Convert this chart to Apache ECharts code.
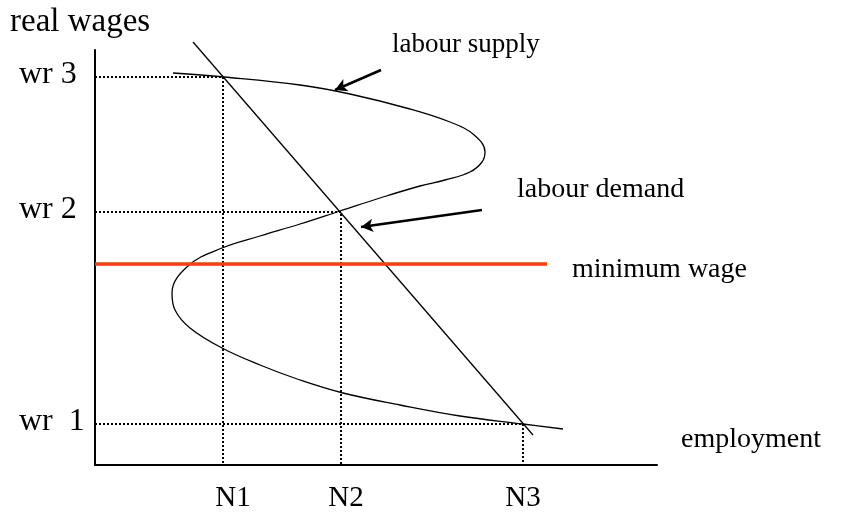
<!DOCTYPE html>
<html>
<head>
<meta charset="utf-8">
<script src="https://cdn.jsdelivr.net/npm/echarts@6/dist/echarts.min.js"></script>
<style>
  html, body { margin: 0; padding: 0; background: #fff; }
  #chart { width: 847px; height: 513px; }
</style>
</head>
<body>
<div id="chart"></div>
<script>
// wage levels (chart units), top to bottom
var wageNames = ['wr 3', 'wr 2', 'wr  1'];
var wageValues = [388, 253, 41];
// employment at each wage level (same order)
var empNames = ['N1', 'N2', 'N3'];
var empValues = [128, 246, 428];
var minWage = 201;
var minWageEnd = 452;

// labour demand: straight line
var demandLine = [[98, 423], [438, 30]];

// labour supply: S-shaped curve
var supplyCurve = [
  [78, 392], [129, 388], [205, 380], [255, 371], [315, 356], [355, 343],
  [378, 331], [390, 313], [387, 303], [375, 293], [350, 285], [325, 279],
  [285, 267], [245, 254], [205, 241], [165, 229], [127, 217], [93, 199],
  [77, 172], [80, 155], [95, 137], [127, 117], [165, 100], [205, 85],
  [248, 72], [305, 60], [365, 49], [428, 41], [468, 36]
];

// annotation arrows [from, to]
var supplyArrow = [[286, 395], [240, 375]];
var demandArrow = [[387, 255], [266, 238]];

var FONT = '"Liberation Serif", "Times New Roman", serif';

var chart = echarts.init(document.getElementById('chart'));

var $each = function(arr, fn){ for (var i = 0; i < arr.length; i++) fn(i, arr[i]); };

// dotted guide lines: wage level -> curve crossing -> employment axis
var guides = [];
$each(wageValues, function(i, w){
  guides.push({
    type: 'line',
    data: [[0, w], [empValues[i], w], [empValues[i], 0]],
    symbol: 'none',
    silent: true,
    lineStyle: { color: '#000', width: 2, type: [2, 2] },
    z: 1
  });
});

var option = {
  animation: false,
  backgroundColor: '#fff',
  grid: { left: 95, top: 50, right: 190, bottom: 48 },
  xAxis: {
    type: 'value', min: 0, max: 562,
    axisLine: { show: true, lineStyle: { color: '#000', width: 2 } },
    axisTick: { show: false }, axisLabel: { show: false }, splitLine: { show: false }
  },
  yAxis: {
    type: 'value', min: 0, max: 415,
    axisLine: { show: true, lineStyle: { color: '#000', width: 2 } },
    axisTick: { show: false }, axisLabel: { show: false }, splitLine: { show: false }
  },
  series: guides.concat([
    {
      name: 'minimum wage',
      type: 'line',
      data: [[0, minWage], [minWageEnd, minWage]],
      symbol: 'none',
      lineStyle: { color: '#ff3c0a', width: 3.5 },
      z: 3
    },
    {
      name: 'labour demand',
      type: 'line',
      data: demandLine,
      symbol: 'none',
      clip: false,
      lineStyle: { color: '#000', width: 1.3 },
      z: 2
    },
    {
      name: 'labour supply',
      type: 'line',
      data: supplyCurve,
      symbol: 'none',
      smooth: 0.4,
      clip: false,
      lineStyle: { color: '#000', width: 1.3 },
      z: 2,
      markLine: {
        silent: true,
        symbol: ['none', 'arrow'],
        symbolSize: [10, 12],
        label: { show: false },
        lineStyle: { color: '#000', width: 2.5, type: 'solid' },
        data: [
          [{ coord: supplyArrow[0] }, { coord: supplyArrow[1] }],
          [{ coord: demandArrow[0] }, { coord: demandArrow[1] }]
        ]
      }
    }
  ])
};
chart.setOption(option);

// text labels
var txt = function(text, x, y, size, align){
  return {
    type: 'text', x: x, y: y, silent: true,
    style: { text: text, font: size + 'px ' + FONT, fill: '#000', align: align || 'left', verticalAlign: 'middle' }
  };
};
var labels = [
  txt('real wages', 10, 22, 33),
  txt('employment', 681, 440, 28),
  txt('labour supply', 392, 45, 27),
  txt('labour demand', 517, 190, 28),
  txt('minimum wage', 572, 270, 28)
];
$each(wageValues, function(i, w){
  var p = chart.convertToPixel({ gridIndex: 0 }, [0, w]);
  labels.push(txt(wageNames[i], 19, p[1] - 2, 32));
});
$each(empValues, function(i, n){
  var p = chart.convertToPixel({ gridIndex: 0 }, [n, 0]);
  labels.push(txt(empNames[i], p[0] + 10 - i * 5, 498, 29, 'center'));
});
chart.setOption({ graphic: labels });
</script>
</body>
</html>
